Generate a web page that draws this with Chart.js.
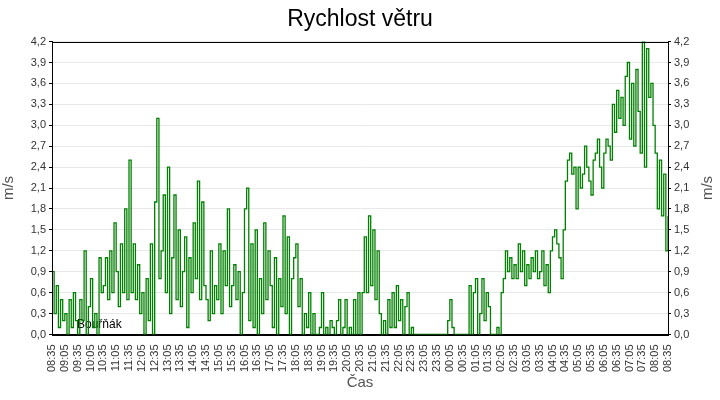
<!DOCTYPE html>
<html><head><meta charset="utf-8">
<script src="https://cdn.jsdelivr.net/npm/chart.js@4/dist/chart.umd.min.js"></script>
<style>body{margin:0;background:#fff}#w{width:720px;height:400px}</style>
</head><body><div id="w"><canvas id="c"></canvas></div>
<script>
const tickLabels = ["08:35","09:05","09:35","10:05","10:35","11:05","11:35","12:05","12:35","13:05","13:35","14:05","14:35","15:05","15:35","16:05","16:35","17:05","17:35","18:05","18:35","19:05","19:35","20:05","20:35","21:05","21:35","22:05","22:35","23:05","23:35","00:05","00:35","01:05","01:35","02:05","02:35","03:05","03:35","04:05","04:35","05:05","05:35","06:05","06:35","07:05","07:35","08:05","08:35"];
const windSpeed = [
0.9,0.3,0.7,0.1,0.5,0.2, 0.3,0.0,0.5,0.1,0.6,0.2, 0.0,0.5,0.2,1.2,0.0,0.4, 0.8,0.1,0.3,0.0,1.1,0.6,
0.7,1.1,0.5,1.2,0.6,1.6, 0.9,0.4,1.3,0.6,1.8,0.5, 2.5,0.6,1.3,0.5,1.0,0.3, 0.6,0.0,0.8,0.2,1.3,0.0,
1.9,3.1,0.8,1.2,2.0,0.6, 2.4,0.3,1.1,2.0,0.5,1.5, 0.4,0.9,1.4,0.1,1.1,0.6, 1.6,0.8,2.2,0.5,1.9,0.7,
0.5,0.2,1.2,0.3,0.7,0.5, 1.3,0.3,1.2,0.7,1.8,0.4, 0.7,1.0,0.5,0.9,0.0,0.6, 1.8,2.1,0.2,1.3,0.1,1.5,
0.0,0.8,0.3,1.6,0.5,1.2, 0.7,0.1,1.1,0.0,0.8,0.4, 1.7,0.3,1.4,0.0,0.8,1.1, 1.3,0.4,0.8,0.0,0.3,0.1,
0.6,0.0,0.3,0.0,0.0,0.1, 0.6,0.0,0.1,0.0,0.2,0.1, 0.0,0.2,0.5,0.0,0.1,0.5, 0.0,0.1,0.0,0.5,0.0,0.6,
0.0,0.6,1.4,0.6,1.7,0.7, 1.5,0.5,1.2,0.3,0.0,0.2, 0.0,0.5,0.1,0.6,0.1,0.7, 0.2,0.5,0.0,0.4,0.6,0.0,
0.1,0.0,0.0,0.0,0.0,0.0, 0.0,0.0,0.0,0.0,0.0,0.0, 0.0,0.0,0.0,0.0,0.0,0.2, 0.5,0.1,0.0,0.0,0.0,0.0,
0.0,0.0,0.0,0.7,0.0,0.6, 0.8,0.0,0.3,0.8,0.2,0.6, 0.4,0.0,0.0,0.0,0.1,0.0, 0.6,0.8,1.2,0.9,1.1,0.8,
1.0,0.8,1.3,0.9,1.2,0.7, 1.0,0.8,1.1,0.9,1.2,0.8, 0.9,1.2,0.7,1.0,0.6,1.2, 1.4,1.5,1.3,1.1,0.8,1.5,
2.2,2.5,2.6,2.3,2.4,1.8, 2.4,2.1,2.3,2.7,2.4,2.2, 2.0,2.5,2.6,2.8,2.4,2.1, 2.6,2.8,2.7,2.5,3.3,2.9,
3.5,3.1,3.4,3.0,3.7,3.9, 2.8,3.6,2.7,3.8,3.2,2.6, 4.2,2.4,4.1,3.4,3.6,3.0, 2.6,1.8,2.5,1.7,2.3,1.2,
1.7];
const stepsPerTick = 6;
const labels = windSpeed.map((v,i)=> i%stepsPerTick===0 ? tickLabels[i/stepsPerTick] : "");
const stationName = "Bouřňák";
const unitText = "m/s";
const F = '"Liberation Sans", Arial, sans-serif';

const deco = {
  id:'deco',
  beforeDatasetsDraw(ch){
    const c=ch.ctx, a=ch.chartArea;
    c.save(); c.font='12px '+F; c.fillStyle='#000';
    c.fillText(stationName, a.left+25, a.bottom-6); c.restore();
  },
  afterDraw(ch){
    const c=ch.ctx, a=ch.chartArea;
    c.save(); c.strokeStyle='#000'; c.lineWidth=1;
    c.strokeRect(Math.round(a.left)+0.5, Math.round(a.top)+0.5, Math.round(a.right-a.left), Math.round(a.bottom-a.top));
    c.fillStyle='#555'; c.font='15px '+F; c.textAlign='center'; c.textBaseline='middle';
    c.translate(708,(a.top+a.bottom)/2); c.rotate(-Math.PI/2); c.fillText(unitText,0,0);
    c.restore();
  }
};
const tickFont = {family:F, size:11};
new Chart(document.getElementById('c'), {
  type:'line',
  data:{labels, datasets:[{data:windSpeed, borderColor:'#008000', borderWidth:1.3, pointRadius:0, stepped:true, fill:false, yAxisID:'y'}]},
  options:{
    responsive:true, maintainAspectRatio:false, animation:false,
    layout:{padding:{right:0,left:0,bottom:8}},
    plugins:{legend:{display:false}, tooltip:{enabled:false},
      title:{display:true, text:'Rychlost větru', color:'#000', font:{family:F, size:23, weight:'normal'}, padding:{top:6,bottom:8}}},
    scales:{
      x:{grid:{display:false}, border:{color:'#000'},
         ticks:{autoSkip:false, minRotation:90, maxRotation:90, color:'#333', font:tickFont, padding:2},
         title:{display:true, text:'Čas', color:'#555', font:{family:F, size:15}, padding:0}},
      y:{position:'left', min:0, max:4.2, afterFit:s=>{s.width=52;},
         ticks:{stepSize:0.3, color:'#333', font:tickFont, callback:v=>v.toFixed(1).replace('.',',')},
         grid:{color:'#e8e8e8', drawTicks:true, tickColor:'#000', tickLength:3}, border:{color:'#000'},
         title:{display:true, text:unitText, color:'#555', font:{family:F, size:15}, padding:0}},
      y2:{position:'right', min:0, max:4.2, afterFit:s=>{s.width=52;},
         ticks:{stepSize:0.3, color:'#333', font:tickFont, callback:v=>v.toFixed(1).replace('.',',')},
         grid:{drawOnChartArea:false, tickColor:'#000', tickLength:3}, border:{color:'#000'}}
    }
  },
  plugins:[deco]
});
</script></body></html>
